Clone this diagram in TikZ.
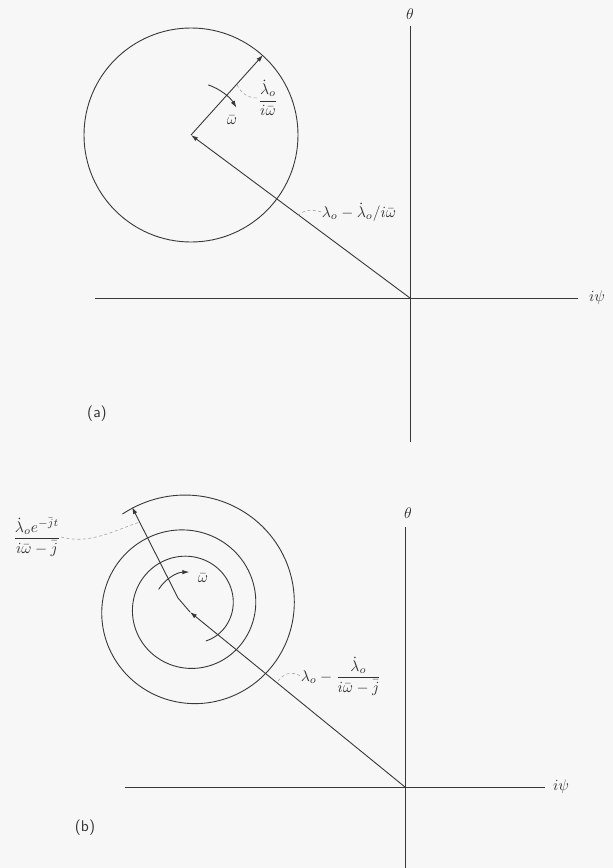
\documentclass[tikz,border=0pt]{standalone}
\usepackage{graphicx}
\usetikzlibrary{arrows.meta}
\newcommand\Sc[1]{\scalebox{1.55}{#1}}
\begin{document}
\begin{tikzpicture}[x=1pt,y=-1pt,
  ln/.style={line width=0.9pt, draw=black!78},
  arr/.style={ln, -{Latex[length=7pt,width=4.5pt]}},
  lead/.style={draw=black!35, line width=0.6pt, dash pattern=on 3pt off 2.5pt},
  lbl/.style={inner sep=0pt, text=black!80}]
\fill[black!3] (0,0) rectangle (613,868);
\useasboundingbox (0,0) rectangle (613,868);
% ---------------- (a) ----------------
\coordinate (O1) at (410,298);
\coordinate (C1) at (191,135);
\coordinate (P1) at (263,55);
\coordinate (xl1) at (95,298);
\coordinate (xr1) at (578,298);
\coordinate (yt1) at (410,26);
\coordinate (yb1) at (410,442);
\draw[ln] (xl1) -- (xr1);
\draw[ln] (yt1) -- (yb1);
\node[lbl] (th1) at (410,14) {\Sc{$\theta$}};
\node[lbl] (ps1) at (597,298) {\Sc{$i\psi$}};
\draw[ln] (C1) circle[radius=107];
\draw[arr] (O1) -- (C1);
\draw[arr] (C1) -- (P1);
\draw[arr] (C1) ++(-71:53) arc[start angle=-71, end angle=-31, radius=53];
\node[lbl] (w1) at (232,120) {\Sc{$\bar\omega$}};
\node[lbl] (lab1) at (268,98) {\Sc{$\displaystyle\frac{\dot\lambda_o}{i\bar\omega}$}};
\coordinate (d1) at (237,85);
\draw[lead] (d1) .. controls (242,94) and (248,98) .. (lab1.west);
\node[lbl] (lab2) at (359,212) {\Sc{$\lambda_o - \dot\lambda_o/i\bar\omega$}};
\coordinate (d2) at (298,216);
\draw[lead] (d2) .. controls (303,210) and (310,209) .. (lab2.west);
\node[lbl] (la) at (97,414) {\Sc{\sffamily (a)}};
% ---------------- (b) ----------------
\coordinate (O2) at (405,787);
\coordinate (C2) at (190,612);
\coordinate (B2) at (178,598);
\coordinate (P2) at (132,507);
\coordinate (xl2) at (125,787);
\coordinate (xr2) at (545,787);
\coordinate (yt2) at (405,527);
\coordinate (yb2) at (405,868);
\draw[ln] (xl2) -- (xr2);
\draw[ln] (yt2) -- (yb2);
\node[lbl] (th2) at (408,513) {\Sc{$\theta$}};
\node[lbl] (ps2) at (561,787) {\Sc{$i\psi$}};
\draw[ln] plot[domain=-65:846, samples=400, smooth]
  ({190+(43+0.085*\x-8*exp(-((\x-360)/120)^2))*cos(\x)},
   {607-(43+0.085*\x-8*exp(-((\x-360)/120)^2))*sin(\x)});
\draw[arr] (O2) -- (C2);
\draw[arr] (C2) -- (B2) -- (P2);
\coordinate (C2b) at (190,609);
\draw[arr] (C2b) ++(-148:37) arc[start angle=-148, end angle=-91, radius=37];
\node[lbl] (w2) at (203,578) {\Sc{$\bar\omega$}};
\node[lbl] (lab3) at (37,537) {\Sc{$\displaystyle\frac{\dot\lambda_o e^{-\bar j t}}{i\bar\omega-\bar j}$}};
\coordinate (d3) at (140,522);
\draw[lead] (lab3.east) .. controls (90,545) and (115,530) .. (d3);
\node[lbl] (lab4) at (341,676) {\Sc{$\lambda_o - \displaystyle\frac{\dot\lambda_o}{i\bar\omega-\bar j}$}};
\coordinate (d4) at (278,681);
\draw[lead] (d4) .. controls (284,673) and (292,671) .. (lab4.west);
\node[lbl] (lb) at (85,828) {\Sc{\sffamily (b)}};
\end{tikzpicture}
\end{document}
